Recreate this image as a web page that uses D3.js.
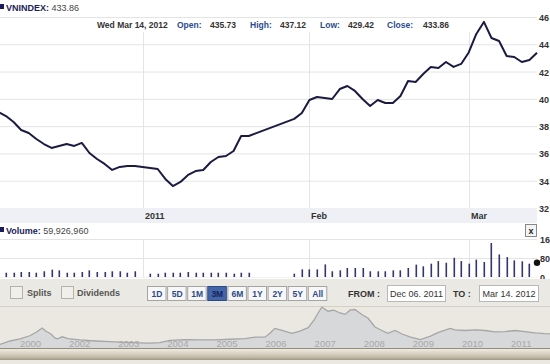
<!DOCTYPE html>
<html>
<head>
<meta charset="utf-8">
<script src="https://cdn.jsdelivr.net/npm/d3@7"></script>
<style>
  body { margin: 0; overflow: hidden; background: #fff; }
  svg { display: block; font-family: "Liberation Sans", Arial, sans-serif; }
</style>
</head>
<body>
<div id="chart"></div>
<script>
// trading days shown in the 3M window
const tradeDates = [
  "2011-12-06", "2011-12-07", "2011-12-08", "2011-12-09", "2011-12-12", "2011-12-13", "2011-12-14",
  "2011-12-15", "2011-12-16", "2011-12-19", "2011-12-20", "2011-12-21", "2011-12-22", "2011-12-23",
  "2011-12-26", "2011-12-27", "2011-12-28", "2011-12-29", "2011-12-30",
  "2012-01-03", "2012-01-04", "2012-01-05", "2012-01-06", "2012-01-09", "2012-01-10", "2012-01-11",
  "2012-01-12", "2012-01-13", "2012-01-16", "2012-01-17", "2012-01-18", "2012-01-19", "2012-01-20",
  "2012-01-30", "2012-01-31",
  "2012-02-01", "2012-02-02", "2012-02-03", "2012-02-06", "2012-02-07", "2012-02-08", "2012-02-09",
  "2012-02-10", "2012-02-13", "2012-02-14", "2012-02-15", "2012-02-16", "2012-02-17", "2012-02-20",
  "2012-02-21", "2012-02-22", "2012-02-23", "2012-02-24", "2012-02-27", "2012-02-28", "2012-02-29",
  "2012-03-01", "2012-03-02", "2012-03-05", "2012-03-06", "2012-03-07", "2012-03-08", "2012-03-09",
  "2012-03-12", "2012-03-13", "2012-03-14"
];

const closes = [
  390.4, 387.4, 383.0, 377.2, 375.0, 370.6, 366.9, 364.0, 365.5, 366.9, 365.5, 367.7, 360.3, 355.9,
  352.3, 347.9, 350.1, 350.8, 350.8,
  349.3, 348.6, 341.3, 336.1, 339.1, 344.2, 347.1, 347.9, 353.7, 357.4, 358.1, 361.8, 372.8, 372.8,
  385.3, 389.6,
  399.2, 401.4, 400.6, 399.9, 407.2, 409.4, 405.8, 399.9, 394.8, 399.2, 397.0, 397.0, 402.1, 413.1,
  412.4, 418.2, 423.4, 422.6, 427.0, 423.4, 425.6,
  434.0, 447.6, 456.4, 444.6, 442.4, 431.4, 430.7, 427.0, 428.5, 433.86
];

// volume in millions of shares
const volumes = [
  20, 18, 18, 21, 21, 18, 24, 31, 28, 18, 18, 21, 28, 21, 21, 24, 24, 18, 24,
  14, 14, 18, 18, 18, 21, 18, 18, 18, 18, 18, 14, 18, 18,
  14, 32,
  32, 32, 53, 24, 28, 38, 38, 38, 24, 24, 24, 28, 28, 38, 52, 45, 56, 67, 60,
  81, 67, 56, 73, 63, 143, 95, 84, 70, 66, 56, 59.93
];

// axis labels as they appear at the right edge of the panel
const priceTicks = [320, 340, 360, 380, 400, 420, 440, 460];
const priceTickLabels = ["32", "34", "36", "38", "40", "42", "44", "46"];
const volumeTicks = [0, 80, 160];
const volumeTickLabels = ["0", "80", "16"];
const monthTickDates = ["2012-01-02", "2012-02-01", "2012-03-01"];
const monthTickLabels = ["2011", "Feb", "Mar"];

const rangeButtons = ["1D", "5D", "1M", "3M", "6M", "1Y", "2Y", "5Y", "All"];
const selectedRange = "3M";

// long-term navigator series (year fraction, index level)
const navT = [2000.59, 2000.80, 2001.00, 2001.20, 2001.33, 2001.45, 2001.53, 2001.63, 2001.71, 2001.76,
  2001.86, 2001.98, 2002.22, 2002.53, 2002.83, 2003.14, 2003.44, 2003.65, 2003.85, 2004.05, 2004.36,
  2004.67, 2004.97, 2005.28, 2005.58, 2005.79, 2005.99, 2006.09, 2006.19, 2006.30, 2006.54, 2006.70,
  2006.87, 2006.99, 2007.07, 2007.15, 2007.27, 2007.39, 2007.52, 2007.62, 2007.72, 2007.82, 2007.97,
  2008.09, 2008.23, 2008.37, 2008.49, 2008.64, 2008.78, 2008.94, 2009.15, 2009.35, 2009.51, 2009.76,
  2009.86, 2010.06, 2010.27, 2010.47, 2010.67, 2010.88, 2011.08, 2011.28, 2011.49, 2011.69, 2011.90,
  2012.10];
const navV = [100, 200, 260, 350, 450, 571, 480, 400, 290, 260,
  320, 270, 230, 200, 180, 160, 145, 140, 155, 220, 240,
  230, 235, 250, 270, 310, 310, 420, 560, 520, 420, 480,
  580, 800, 1000, 1170, 1050, 1080, 1000, 960, 1080, 1100, 950,
  850, 600, 500, 420, 500, 400, 320, 240, 330, 440, 560,
  520, 500, 520, 500, 460, 470, 500, 470, 430, 410, 400,
  380];
const navTickYears = [2001, 2002, 2003, 2004, 2005, 2006, 2007, 2008, 2009, 2010, 2011];
const navTickLabels = ["2000", "2002", "2003", "2004", "2005", "2006", "2007", "2008", "2009", "2010", "2011"];

const W = 550, H = 364;
const plotRight = 537;
const parse = d3.timeParse("%Y-%m-%d");
const start = parse(tradeDates[0]);

// x position counts weekdays, so holidays leave gaps
function weekdayIndex(dateStr) {
  const d = parse(dateStr);
  return d3.timeDays(start, d).filter(t => t.getDay() % 6 !== 0).length;
}

const x = d3.scaleLinear().domain([0, 71]).range([-1.6, plotRight]);
const y = d3.scaleLinear().domain([320, 460]).range([208, 17]);
const yVol = d3.scaleLinear().domain([0, 160]).range([277, 239]);

const rows = tradeDates.map((d, i) => ({ i: weekdayIndex(d), close: closes[i], vol: volumes[i] }));

const svg = d3.select("#chart").append("svg")
  .attr("width", W)
  .attr("height", H);

// header
svg.append("rect").attr("x", 0).attr("y", 4).attr("width", 4).attr("height", 5).attr("fill", "#1c1c5a");
const head = svg.append("text").attr("x", 6).attr("y", 11).attr("font-size", 9).attr("font-weight", "bold");
head.append("tspan").attr("fill", "#1c1c5a").text("VNINDEX: ");
head.append("tspan").attr("fill", "#444").attr("font-weight", "normal").text("433.86");

// price gridlines
svg.append("g").selectAll("line")
  .data(priceTicks)
  .enter()
  .append("line")
  .attr("x1", 0).attr("x2", plotRight)
  .attr("y1", d => y(d) + 0.5).attr("y2", d => y(d) + 0.5)
  .attr("stroke", "#e4e4e4");

svg.append("g").selectAll("text")
  .data(priceTicks)
  .enter()
  .append("text")
  .attr("x", 539)
  .attr("y", d => y(d) + 4)
  .attr("font-size", 9)
  .attr("font-weight", "bold")
  .attr("fill", "#333")
  .text((d, i) => priceTickLabels[i]);

// month gridlines across price and volume panes
const monthX = monthTickDates.map(d => Math.round(x(weekdayIndex(d))) + 0.5);
svg.append("g").selectAll("line")
  .data(monthX)
  .enter()
  .append("line")
  .attr("x1", d => d).attr("x2", d => d)
  .attr("y1", 17).attr("y2", 208)
  .attr("stroke", "#e4e4e4");
svg.append("g").selectAll("line")
  .data(monthX)
  .enter()
  .append("line")
  .attr("x1", d => d).attr("x2", d => d)
  .attr("y1", 239).attr("y2", 277)
  .attr("stroke", "#e4e4e4");

// x axis band
svg.append("rect").attr("x", 0).attr("y", 208).attr("width", plotRight).attr("height", 15).attr("fill", "#eef0f5");
svg.append("g").selectAll("text")
  .data(monthX)
  .enter()
  .append("text")
  .attr("x", d => d + 1.5)
  .attr("y", 219)
  .attr("font-size", 9)
  .attr("font-weight", "bold")
  .attr("fill", "#333")
  .text((d, i) => monthTickLabels[i]);

// price line
const line = d3.line()
  .x(d => x(d.i))
  .y(d => y(d.close));
svg.append("path")
  .datum(rows)
  .attr("d", line)
  .attr("fill", "none")
  .attr("stroke", "#1a1a42")
  .attr("stroke-width", 2)
  .attr("stroke-linejoin", "round");

// quote box
svg.append("rect").attr("x", 92).attr("y", 18).attr("width", 378).attr("height", 14).attr("fill", "#fff");
const quote = [
  { x: 97, t: "Wed Mar 14, 2012", c: "#333" },
  { x: 177, t: "Open:", c: "#2c4c8c" },
  { x: 210, t: "435.73", c: "#333" },
  { x: 250, t: "High:", c: "#2c4c8c" },
  { x: 280, t: "437.12", c: "#333" },
  { x: 320, t: "Low:", c: "#2c4c8c" },
  { x: 348, t: "429.42", c: "#333" },
  { x: 387, t: "Close:", c: "#2c4c8c" },
  { x: 423, t: "433.86", c: "#333" }
];
svg.append("g").selectAll("text")
  .data(quote)
  .enter()
  .append("text")
  .attr("x", d => d.x)
  .attr("y", 28)
  .attr("font-size", 8.5)
  .attr("font-weight", "bold")
  .attr("fill", d => d.c)
  .text(d => d.t);

// volume header
svg.append("rect").attr("x", 0).attr("y", 227).attr("width", 4).attr("height", 5).attr("fill", "#1c1c5a");
const vh = svg.append("text").attr("x", 6).attr("y", 234).attr("font-size", 9).attr("font-weight", "bold");
vh.append("tspan").attr("fill", "#1c1c5a").text("Volume: ");
vh.append("tspan").attr("fill", "#444").attr("font-weight", "normal").text("59,926,960");

svg.append("rect").attr("x", 525.5).attr("y", 224.5).attr("width", 11).attr("height", 12)
  .attr("fill", "#f4f4f4").attr("stroke", "#888");
svg.append("text").attr("x", 531).attr("y", 234).attr("text-anchor", "middle")
  .attr("font-size", 9).attr("font-weight", "bold").attr("fill", "#222").text("x");

// volume gridlines
svg.append("g").selectAll("line")
  .data(volumeTicks)
  .enter()
  .append("line")
  .attr("x1", 0).attr("x2", plotRight)
  .attr("y1", d => Math.round(yVol(d)) + 0.5).attr("y2", d => Math.round(yVol(d)) + 0.5)
  .attr("stroke", d => d === 0 ? "#f2f2f2" : "#e4e4e4");
svg.append("g").selectAll("text")
  .data(volumeTicks)
  .enter()
  .append("text")
  .attr("x", 540)
  .attr("y", d => yVol(d) + 4)
  .attr("font-size", 9)
  .attr("font-weight", "bold")
  .attr("fill", "#333")
  .text((d, i) => volumeTickLabels[i]);

// volume bars
svg.append("g").selectAll("rect")
  .data(rows.slice(0, -1))
  .enter()
  .append("rect")
  .attr("x", d => Math.round(x(d.i)) - 0.5)
  .attr("y", d => yVol(d.vol))
  .attr("width", 1.6)
  .attr("height", d => yVol(0) - yVol(d.vol))
  .attr("fill", "#34346e");

const last = rows[rows.length - 1];
svg.append("circle")
  .attr("cx", x(last.i))
  .attr("cy", yVol(last.vol))
  .attr("r", 3.2)
  .attr("fill", "#111");

// control row
svg.append("rect").attr("x", 0).attr("y", 279).attr("width", W).attr("height", 27).attr("fill", "#ebe9e3");
[{ bx: 10, lx: 27, t: "Splits" }, { bx: 61, lx: 77, t: "Dividends" }].forEach(c => {
  svg.append("rect").attr("x", c.bx + 0.5).attr("y", 286.5).attr("width", 12).attr("height", 12)
    .attr("fill", "#f1efea").attr("stroke", "#b5b2aa");
  svg.append("text").attr("x", c.lx).attr("y", 296).attr("font-size", 9).attr("font-weight", "bold")
    .attr("fill", "#555").text(c.t);
});

const btn = svg.append("g").selectAll("g")
  .data(rangeButtons)
  .enter()
  .append("g")
  .attr("transform", (d, i) => `translate(${147 + i * 20.1},286)`);
btn.append("rect")
  .attr("x", 0.5).attr("y", 0.5)
  .attr("width", 18.5).attr("height", 14)
  .attr("fill", d => d === selectedRange ? "#4466a8" : "#f7f7f7")
  .attr("stroke", d => d === selectedRange ? "#2d4a86" : "#a4a4a4");
btn.append("text")
  .attr("x", 10).attr("y", 10.5)
  .attr("text-anchor", "middle")
  .attr("font-size", 8.5)
  .attr("font-weight", "bold")
  .attr("fill", d => d === selectedRange ? "#14245a" : "#2b4a8a")
  .text(d => d);

svg.append("text").attr("x", 348).attr("y", 297).attr("font-size", 9).attr("font-weight", "bold")
  .attr("fill", "#333").text("FROM :");
svg.append("text").attr("x", 453).attr("y", 297).attr("font-size", 9).attr("font-weight", "bold")
  .attr("fill", "#333").text("TO :");
[{ x0: 387, w: 58, t: "Dec 06. 2011" }, { x0: 479, w: 59, t: "Mar 14. 2012" }].forEach(b => {
  svg.append("rect").attr("x", b.x0 + 0.5).attr("y", 285.5).attr("width", b.w).attr("height", 16)
    .attr("fill", "#fff").attr("stroke", "#b8b8b8");
  svg.append("text").attr("x", b.x0 + b.w / 2 + 0.5).attr("y", 297).attr("text-anchor", "middle")
    .attr("font-size", 9).attr("fill", "#333").text(b.t);
});

// navigator
svg.append("rect").attr("x", 0).attr("y", 306).attr("width", W).attr("height", 58).attr("fill", "#ebe8e2");
svg.append("line").attr("x1", 0).attr("x2", W).attr("y1", 306.5).attr("y2", 306.5).attr("stroke", "#d4d0c6");

const navX = d3.scaleLinear().domain([2001, 2012]).range([20, 20 + 11 * 49.1]);
const navY = d3.scaleLinear().domain([0, 1200]).range([348, 306]);
const navData = navT.map((t, i) => ({ t, v: navV[i] }));

svg.append("path")
  .datum(navData)
  .attr("d", d3.area().x(d => navX(d.t)).y0(348).y1(d => navY(d.v)))
  .attr("fill", "#d6d8da");
svg.append("path")
  .datum(navData)
  .attr("d", d3.line().x(d => navX(d.t)).y(d => navY(d.v)))
  .attr("fill", "none")
  .attr("stroke", "#a6a6a6")
  .attr("stroke-width", 1.3);

svg.append("g").selectAll("text")
  .data(navTickYears)
  .enter()
  .append("text")
  .attr("x", d => navX(d))
  .attr("y", 347)
  .attr("font-size", 9.5)
  .attr("fill", "#a9a9a9")
  .text((d, i) => navTickLabels[i]);

const grad = svg.append("defs").append("linearGradient")
  .attr("id", "scroll").attr("x1", 0).attr("x2", 0).attr("y1", 0).attr("y2", 1);
grad.append("stop").attr("offset", "0%").attr("stop-color", "#efebe2");
grad.append("stop").attr("offset", "35%").attr("stop-color", "#dcd5c7");
grad.append("stop").attr("offset", "75%").attr("stop-color", "#c2b9a6");
grad.append("stop").attr("offset", "100%").attr("stop-color", "#9f9684");
svg.append("line").attr("x1", 0).attr("x2", W).attr("y1", 348.5).attr("y2", 348.5).attr("stroke", "#958d7c");
svg.append("rect").attr("x", 0).attr("y", 349).attr("width", W).attr("height", 11).attr("fill", "url(#scroll)");
</script>
</body>
</html>
